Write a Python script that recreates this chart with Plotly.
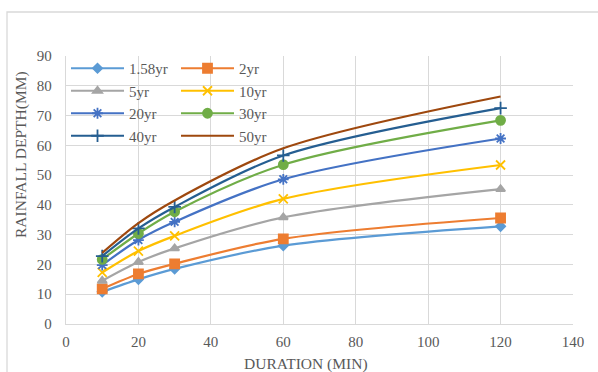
import plotly.graph_objects as go

durations = [10, 20, 30, 60, 120]
series_names = ["1.58yr", "2yr", "5yr", "10yr", "20yr", "30yr", "40yr", "50yr"]
v_158 = [10.8, 15.0, 18.5, 26.3, 32.8]
v_2 = [11.8, 16.8, 20.2, 28.6, 35.6]
v_5 = [14.5, 20.8, 25.4, 35.8, 45.3]
v_10 = [17.3, 24.5, 29.6, 42.0, 53.4]
v_20 = [19.8, 28.2, 34.3, 48.6, 62.3]
v_30 = [21.7, 30.4, 37.7, 53.5, 68.4]
v_40 = [22.8, 32.1, 39.3, 56.6, 72.5]
v_50 = [23.9, 33.9, 41.5, 59.0, 76.4]
values = [v_158, v_2, v_5, v_10, v_20, v_30, v_40, v_50]
x_title = "DURATION (MIN)"
y_title = "RAINFALL DEPTH(MM)"

colors = ["#5B9BD5", "#ED7D31", "#A5A5A5", "#FFC000", "#4472C4", "#70AD47", "#255E91", "#9E480E"]
symbols = ["diamond", "square", "triangle-up", "x-thin-open", "asterisk-open", "circle", "cross-thin-open", None]
sizes = [7, 9, 8, 9, 9, 9, 9, 0]
legend_ids = ["legend", "legend2", "legend", "legend2", "legend", "legend2", "legend", "legend2"]

FONT = "Liberation Serif"
GRAY = "#595959"

fig = go.Figure()
for name, vals, c, s, sz, lg in zip(series_names, values, colors, symbols, sizes, legend_ids):
    if s is None:
        fig.add_trace(go.Scatter(x=durations, y=vals, name=name, mode="lines",
                                 line=dict(color=c, width=2.2, shape="spline", smoothing=0.9),
                                 legend=lg))
    else:
        fig.add_trace(go.Scatter(x=durations, y=vals, name=name, mode="lines+markers",
                                 line=dict(color=c, width=2.2, shape="spline", smoothing=0.9),
                                 marker=dict(symbol=s, size=sz, color=c, line=dict(color=c, width=1.8)),
                                 legend=lg))

W, H = 598, 372
L, R, T, B = 66, 25, 56, 48
pw, ph = W - L - R, H - T - B

def px_x(p):
    return (p - L) / pw

def px_y(p):
    return 1 - (p - T) / ph

legend_common = dict(bgcolor="rgba(0,0,0,0)", font=dict(family=FONT, size=15, color=GRAY),
                     itemwidth=53, xanchor="left", yanchor="top", tracegroupgap=0,
                     orientation="v")

fig.update_layout(
    width=W, height=H,
    margin=dict(l=L, r=R, t=T, b=B),
    paper_bgcolor="white", plot_bgcolor="white",
    font=dict(family=FONT, size=15, color=GRAY),
    legend=dict(x=px_x(66), y=px_y(52), **legend_common),
    legend2=dict(x=px_x(176), y=px_y(52), **legend_common),
    xaxis=dict(range=[0, 140], dtick=20, tick0=0, showgrid=True, gridcolor="#D9D9D9", gridwidth=1.3,
               zeroline=False, showline=True, linecolor="#D9D9D9", linewidth=1.3,
               ticks="", ticklabelstandoff=4, tickfont=dict(family=FONT, size=15, color=GRAY)),
    yaxis=dict(range=[0, 90], dtick=10, tick0=0, showgrid=True, gridcolor="#D9D9D9", gridwidth=1.3,
               zeroline=False, showline=True, linecolor="#D9D9D9", linewidth=1.3,
               ticks="", ticklabelstandoff=10, tickfont=dict(family=FONT, size=15, color=GRAY)),
    annotations=[
        dict(text=x_title, xref="paper", yref="paper", x=px_x(306), y=px_y(364),
             xanchor="center", yanchor="middle", showarrow=False,
             font=dict(family=FONT, size=15.5, color=GRAY)),
        dict(text=y_title, xref="paper", yref="paper", x=px_x(21), y=px_y(155),
             xanchor="center", yanchor="middle", showarrow=False, textangle=-90,
             font=dict(family=FONT, size=15.5, color=GRAY)),
    ],
    shapes=[dict(type="rect", xref="paper", yref="paper",
                 x0=px_x(7), x1=px_x(620), y0=px_y(400), y1=px_y(12),
                 line=dict(color="#D9D9D9", width=1.3), fillcolor="rgba(0,0,0,0)", layer="below")],
)

fig.write_html("out.html")
